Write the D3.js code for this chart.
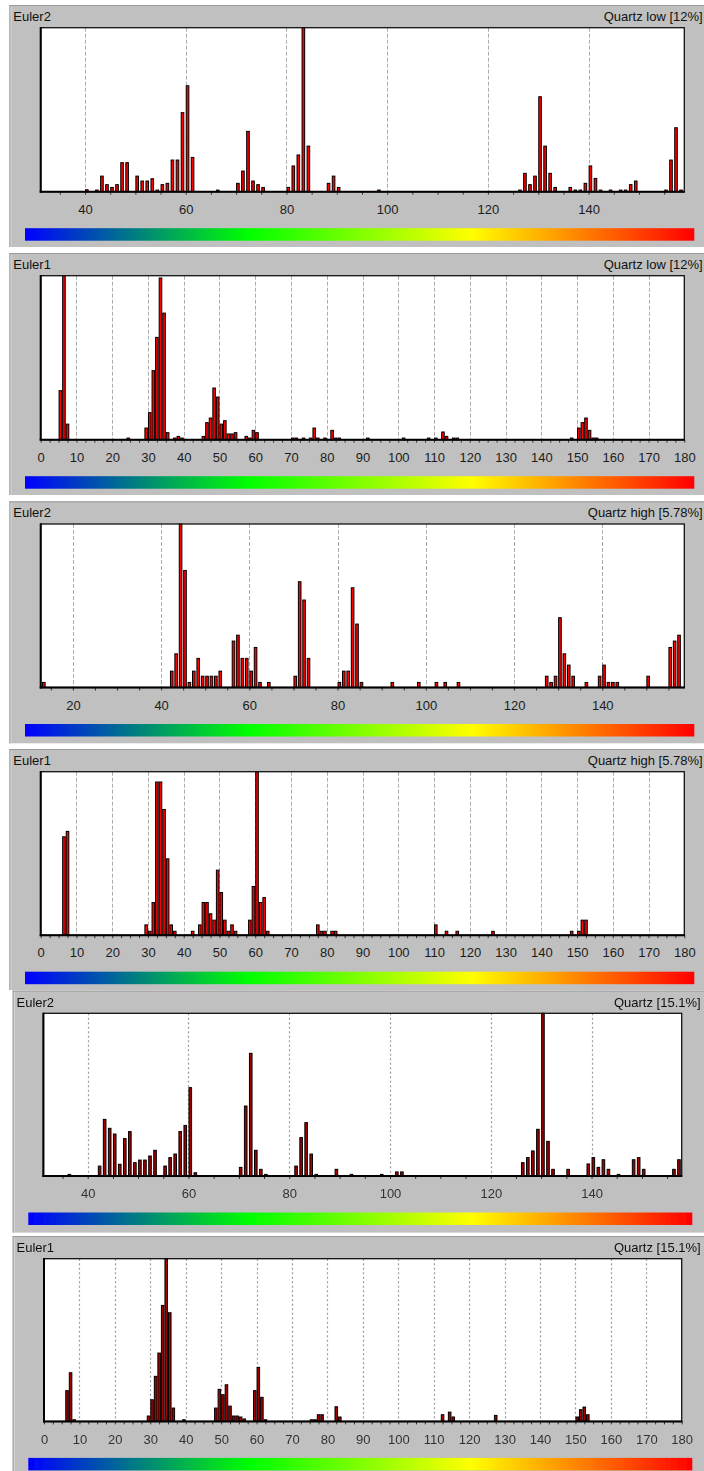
<!DOCTYPE html>
<html>
<head>
<meta charset="utf-8">
<script src="https://cdn.jsdelivr.net/npm/d3@7"></script>
<style>
  html, body { margin: 0; padding: 0; background: #ffffff; }
  svg { display: block; }
  text { font-family: "Liberation Sans", Arial, sans-serif; }
</style>
</head>
<body>
<svg id="chart" width="704" height="1471"></svg>
<script>
// Euler angle histograms (1° bins), frequency relative to the tallest bin of each histogram.
// Each entry: [bin start angle in degrees, relative frequency %]

const euler2Low = [[40,1.2],[42,1],[43,9.5],[44,4.3],[45,2.6],[46,4.3],[47,17.7],[48,17.7],[50,9.5],[51,6.5],[52,6.5],[53,7.9],[54,1],[55,4.3],[56,5.1],[57,19.3],[58,19.3],[59,48.2],[60,64.6],[61,20.9],[66,1],[70,5.1],[71,12.6],[72,36.8],[73,6.5],[74,4.3],[75,2.6],[80,2.6],[81,15.7],[82,22.4],[83,100],[84,27.8],[88,5.1],[89,9.5],[90,2.6],[98,1],[126,1],[127,11.2],[128,4.3],[129,9.5],[130,57.9],[131,27.8],[132,11.2],[133,2.6],[136,2.6],[137,1],[138,1],[139,5.1],[140,15.7],[141,8.1],[142,1],[144,1],[146,1],[147,1],[148,4.3],[149,6.5],[155,1],[156,19.3],[157,39],[158,1]];

const euler1Low = [[5,29.9],[6,100],[7,9.5],[24,1],[29,7.1],[30,16.5],[31,42.1],[32,62.4],[33,98.6],[34,77.2],[35,4.3],[37,1],[38,2],[39,1],[45,2],[46,10.4],[47,13.2],[48,31.5],[49,26],[50,9.5],[51,11.6],[52,3.5],[53,3.5],[54,4.3],[57,2],[58,1],[59,5.7],[60,4.3],[70,1],[71,1],[73,1],[75,1],[76,7.1],[77,1],[79,1],[81,5.7],[82,1],[83,1],[91,1],[101,1],[108,1],[110,1],[112,4.7],[113,2],[115,1],[116,1],[148,1],[150,7.1],[151,10.4],[152,13.2],[153,5.7],[154,1],[155,1]];

const euler2High = [[13,3.1],[42,10],[43,20.6],[44,100],[45,71.6],[46,3.1],[47,10],[48,17.8],[49,6.9],[50,6.9],[51,6.9],[52,6.9],[53,10],[56,28.4],[57,32],[58,17.8],[59,17.8],[60,10],[61,24.5],[62,3.1],[64,3.1],[70,6.9],[71,64.7],[72,53.5],[73,17.8],[80,3.1],[81,10],[82,10],[83,61],[84,38.8],[85,3.1],[92,3.1],[98,3.1],[102,3.1],[104,3.1],[107,3.1],[127,6.9],[128,3.1],[129,6.9],[130,42.7],[131,20.6],[132,13.7],[133,6.9],[136,3.1],[139,6.9],[140,13.7],[141,3.1],[142,3.1],[143,3.1],[150,6.9],[155,24.5],[156,28.4],[157,32]];

const euler1High = [[6,60.2],[7,63.5],[29,6.3],[30,2.4],[31,20],[32,93.7],[33,93.7],[34,76.9],[35,46.7],[36,6.3],[37,2.4],[42,2.4],[44,6.3],[45,20],[46,20],[47,13.1],[48,9.2],[49,39.8],[50,26.1],[51,9.2],[52,2.4],[53,6.3],[54,2.4],[58,9.2],[59,29.8],[60,100],[61,20],[62,23],[63,2.4],[77,6.3],[78,2.4],[79,2.4],[81,2.4],[82,2.4],[110,6.3],[113,2.4],[116,2.4],[126,2.4],[148,2.4],[150,2.4],[151,9.2],[152,9.2]];

const euler2All = [[36,1],[42,6.1],[43,34.8],[44,29.3],[45,25.8],[46,7.2],[47,23],[48,27.3],[49,8.2],[50,9.8],[51,9.8],[52,12.3],[53,15.8],[55,6.1],[56,11.3],[57,13.5],[58,27.3],[59,31.1],[60,54.3],[61,2],[70,5.3],[71,43],[72,75.4],[73,15.8],[74,4.1],[75,1],[81,6.1],[82,23.6],[83,32.8],[84,13.5],[85,1],[89,4.1],[92,1],[98,1],[101,2.5],[102,2.5],[126,8.2],[127,11.3],[128,15.4],[129,28.7],[130,100],[131,21.3],[132,4.1],[135,4.1],[139,7.4],[140,11.3],[141,5.3],[142,10],[143,4.1],[145,1],[148,10],[149,11.3],[150,4.1],[156,4.1],[157,10]];

const euler1All = [[6,18.9],[7,29.9],[8,1],[29,3.3],[30,13.3],[31,27.7],[32,42],[33,71.3],[34,100],[35,66.8],[36,8.2],[39,1],[48,8.2],[49,19.7],[50,16.4],[51,22.5],[52,9.4],[53,3.3],[54,3.3],[55,2.7],[56,1.5],[59,18.9],[60,33.2],[61,14.8],[62,1],[75,1],[76,1],[77,4.1],[78,4.1],[82,9],[83,2.7],[112,4.1],[114,5.7],[115,2.7],[127,3.7],[150,2.7],[151,7.2],[152,8.8],[153,4.1]];

// Axis labels, phase names and angle ranges
const angleNames = ["Euler2", "Euler1", "Euler2", "Euler1", "Euler2", "Euler1"];
const phaseNames = ["Quartz low [12%]", "Quartz low [12%]", "Quartz high [5.78%]", "Quartz high [5.78%]", "Quartz [15.1%]", "Quartz [15.1%]"];
const angleDomains = [[31.2, 159], [0, 180], [12.7, 158.6], [0, 180], [31.2, 157.9], [0, 180]];
const labelSteps = [20, 10, 20, 10, 20, 10];
const series = [euler2Low, euler1Low, euler2High, euler1High, euler2All, euler1All];

// Colour ramp shown under each histogram
const rampColors = ["#0000ff", "#00ff00", "#ffff00", "#ff0000"];

// Panel placement on the page
const panelBoxes = [
  { top: 5,     left: 9.5,  plotL: 40.7, plotR: 684.3, rampL: 25,   rampR: 694.3, plotH: 164,   height: 242,   soft: false },
  { top: 253,   left: 9.5,  plotL: 40.7, plotR: 684.3, rampL: 25,   rampR: 694.3, plotH: 164,   height: 242,   soft: false },
  { top: 501.3, left: 9.5,  plotL: 40.7, plotR: 684.3, rampL: 25,   rampR: 694.3, plotH: 163.5, height: 242,   soft: false },
  { top: 749,   left: 9.5,  plotL: 40.7, plotR: 684.3, rampL: 25,   rampR: 694.3, plotH: 163.5, height: 241,   soft: false },
  { top: 990.6, left: 12.7, plotL: 43.4, plotR: 681.7, rampL: 28.3, rampR: 692.3, plotH: 162.7, height: 242,   soft: true },
  { top: 1236,  left: 12.7, plotL: 44,   plotR: 681.7, rampL: 28.3, rampR: 692.3, plotH: 162.7, height: 236,   soft: true }
];

const svg = d3.select("#chart");
const defs = svg.append("defs");

const grad = defs.append("linearGradient")
  .attr("id", "ramp").attr("x1", "0%").attr("x2", "100%").attr("y1", "0%").attr("y2", "0%");
grad.selectAll("stop").data(rampColors).join("stop")
  .attr("offset", (d, i) => (i / (rampColors.length - 1) * 100) + "%")
  .attr("stop-color", d => d);

defs.append("filter").attr("id", "soft")
  .attr("x", "-2%").attr("y", "-2%").attr("width", "104%").attr("height", "104%")
  .append("feGaussianBlur").attr("stdDeviation", 0.45);

series.forEach((data, i) => {
  const box = panelBoxes[i];
  const g = svg.append("g");
  if (box.soft) g.attr("filter", "url(#soft)");

  const plotTop = box.top + 22.7;
  const plotBottom = plotTop + box.plotH;

  // panel background with bevelled edges
  g.append("rect")
    .attr("x", box.left).attr("y", box.top)
    .attr("width", 704 - box.left).attr("height", box.height)
    .attr("fill", "#c0c0c0");
  g.append("line")
    .attr("x1", box.left + 0.5).attr("x2", box.left + 0.5)
    .attr("y1", box.top).attr("y2", box.top + box.height)
    .attr("stroke", "#8a8a8a").attr("stroke-width", 1);
  g.append("line")
    .attr("x1", box.left + 1.5).attr("x2", box.left + 1.5)
    .attr("y1", box.top + 1).attr("y2", box.top + box.height)
    .attr("stroke", "#d8d8d8").attr("stroke-width", 1);
  g.append("line")
    .attr("x1", box.left).attr("x2", 704)
    .attr("y1", box.top + 0.5).attr("y2", box.top + 0.5)
    .attr("stroke", "#9a9a9a").attr("stroke-width", 1);

  // titles
  g.append("text")
    .attr("x", box.left + 3.8).attr("y", plotTop - 6.7)
    .attr("font-size", 13).attr("fill", "#111")
    .text(angleNames[i]);
  g.append("text")
    .attr("x", box.soft ? 700.7 : 702.7).attr("y", plotTop - 6.7)
    .attr("text-anchor", "end")
    .attr("font-size", 13).attr("fill", "#111")
    .text(phaseNames[i]);

  const dom = angleDomains[i];
  const x = d3.scaleLinear().domain(dom).range([box.plotL, box.plotR]);
  const y = d3.scaleLinear().domain([0, 100]).range([plotBottom, plotTop]);

  // plot area
  g.append("rect")
    .attr("x", box.plotL).attr("y", plotTop)
    .attr("width", box.plotR - box.plotL).attr("height", box.plotH)
    .attr("fill", "#ffffff");

  const step = labelSteps[i];
  const majors = d3.range(Math.ceil(dom[0] / step) * step, dom[1] + 1e-6, step);
  const minors = d3.range(Math.ceil(dom[0] / (step / 4)) * (step / 4), dom[1] + 1e-6, step / 4);

  // vertical grid at labelled angles
  g.append("g").selectAll("line")
    .data(majors.filter(v => v > dom[0] + 0.5 && v < dom[1] - 0.5))
    .join("line")
    .attr("x1", d => Math.round(x(d)) + 0.5).attr("x2", d => Math.round(x(d)) + 0.5)
    .attr("y1", plotTop).attr("y2", plotBottom)
    .attr("stroke", box.soft ? "#9c9c9c" : "#acacac")
    .attr("stroke-width", box.soft ? 1.2 : 1)
    .attr("stroke-dasharray", box.soft ? "2,2.5" : "4,2");

  // histogram bars
  const binPx = x(dom[0] + 1) - x(dom[0]);
  const barW = Math.min(binPx, 3.6);
  g.append("g").selectAll("rect")
    .data(data)
    .join("rect")
    .attr("x", d => x(d[0]) + 0.5)
    .attr("y", d => y(d[1]))
    .attr("width", barW - 1)
    .attr("height", d => plotBottom - y(d[1]))
    .attr("fill", box.soft ? "#a30000" : "#ff0000")
    .attr("stroke", "#000")
    .attr("stroke-width", 1);

  // frame of the plot area
  g.append("rect")
    .attr("x", box.plotL).attr("y", plotTop)
    .attr("width", box.plotR - box.plotL).attr("height", box.plotH)
    .attr("fill", "none").attr("stroke", "#111").attr("stroke-width", 1.3);
  g.append("line")
    .attr("x1", box.plotL).attr("x2", box.plotL)
    .attr("y1", plotTop - 0.6).attr("y2", plotBottom + 1)
    .attr("stroke", "#000").attr("stroke-width", 2);

  // minor ticks under the axis
  const minorAxis = d3.axisBottom(x).tickValues(minors).tickSize(3).tickFormat("");
  const ma = g.append("g").attr("transform", `translate(0,${plotBottom})`).call(minorAxis);
  ma.select(".domain").remove();
  ma.selectAll(".tick line").attr("stroke", "#333");

  // bottom axis line
  g.append("line")
    .attr("x1", box.plotL - 1).attr("x2", box.plotR + 0.6)
    .attr("y1", plotBottom).attr("y2", plotBottom)
    .attr("stroke", "#000").attr("stroke-width", 2);

  // angle labels
  const labelAxis = d3.axisBottom(x).tickValues(majors).tickSize(0).tickPadding(13).tickFormat(d3.format("d"));
  const la = g.append("g").attr("transform", `translate(0,${plotBottom})`).call(labelAxis);
  la.select(".domain").remove();
  la.selectAll("text")
    .attr("font-size", 13)
    .attr("font-family", "\"Liberation Sans\", Arial, sans-serif")
    .attr("fill", box.soft ? "#333" : "#1c1c1c");

  // colour ramp
  g.append("rect")
    .attr("x", box.rampL).attr("y", plotBottom + 36.5)
    .attr("width", box.rampR - box.rampL).attr("height", 12.5)
    .attr("fill", "url(#ramp)");
});
</script>
</body>
</html>
